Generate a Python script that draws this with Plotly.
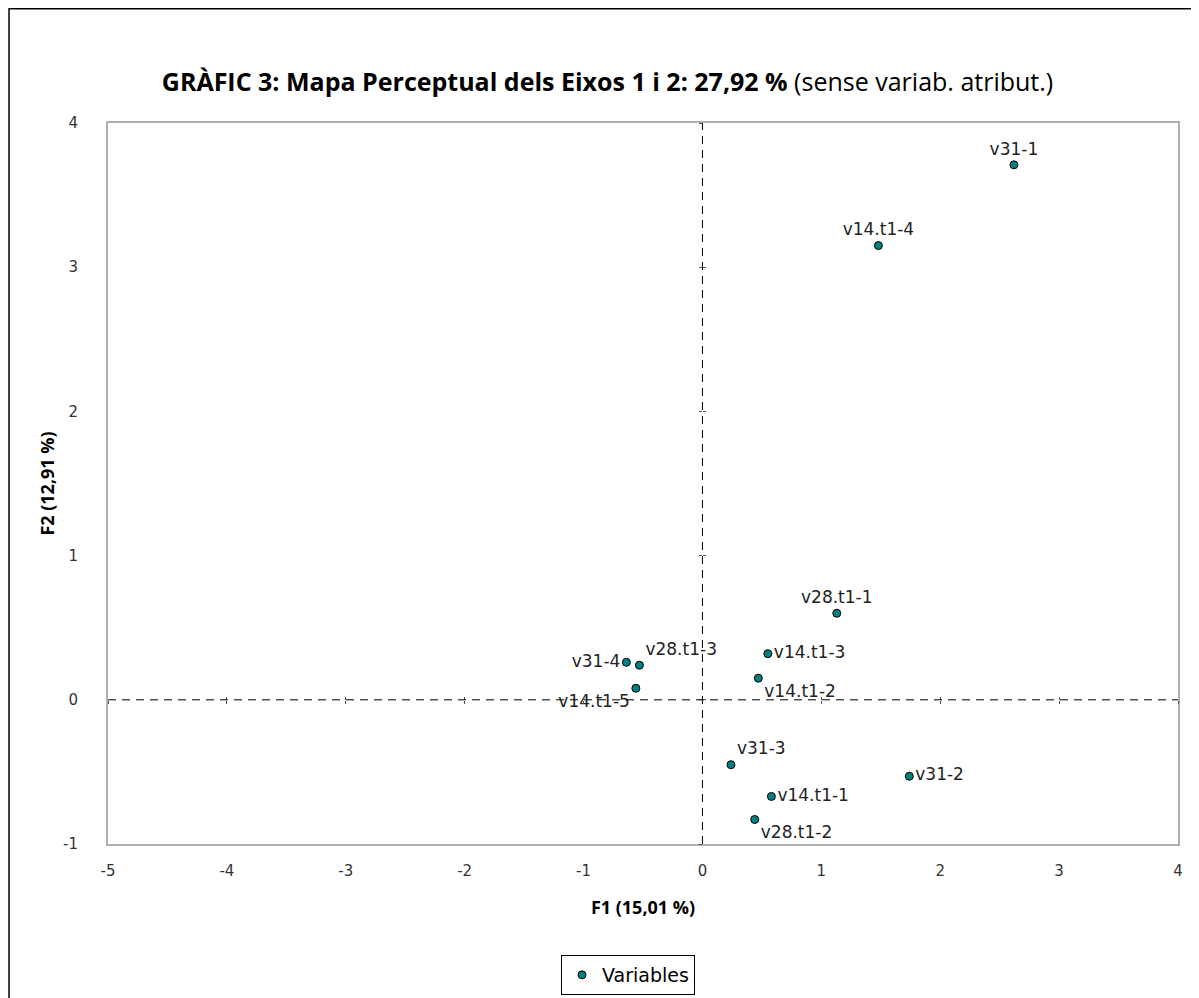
import plotly.graph_objects as go

labels = ["v31-1", "v14.t1-4", "v28.t1-1", "v14.t1-3", "v14.t1-2", "v31-4",
          "v28.t1-3", "v14.t1-5", "v31-3", "v31-2", "v14.t1-1", "v28.t1-2"]
f1 = [2.62, 1.48, 1.13, 0.55, 0.47, -0.64, -0.53, -0.56, 0.24, 1.74, 0.58, 0.44]
f2 = [3.71, 3.15, 0.60, 0.32, 0.15, 0.26, 0.24, 0.08, -0.45, -0.53, -0.67, -0.83]
positions = ["top center", "top center", "top center", "middle right", "bottom right",
             "middle left", "top right", "bottom left", "top right", "middle right",
             "middle right", "bottom right"]

x_ticks = [-5, -4, -3, -2, -1, 0, 1, 2, 3, 4]
y_ticks = [-1, 0, 1, 2, 3, 4]
x_ticktext = ["-5", "-4", "-3", "-2", "-1", "0", "1", "2", "3", "4"]
y_ticktext = ["-1", "0", "1", "2", "3", "4"]
x_range = [-5, 4]
y_range = [-1, 4]

LFONT = "DejaVu Sans"
TFONT = "Open Sans"

fig = go.Figure()
fig.add_trace(go.Scatter(
    x=f1, y=f2, mode="markers+text", text=labels, textposition=positions,
    name="Variables",
    marker=dict(color="#008080", size=8, line=dict(color="black", width=1)),
    textfont=dict(family=LFONT, size=17, color="#222222"),
    cliponaxis=False,
))

# crossing axes (dashed) at zero
fig.add_shape(type="line", xref="x", yref="y", x0=0, x1=0, y0=y_range[0], y1=y_range[1],
              line=dict(color="black", width=1, dash="8px,6px"))
fig.add_shape(type="line", xref="x", yref="y", x0=x_range[0], x1=x_range[1], y0=0, y1=0,
              line=dict(color="black", width=1, dash="8px,6px"))
# outer frame (only top and left edges fall inside the picture)
fig.add_shape(type="rect", xref="paper", yref="paper", x0=-0.0925, x1=1.1, y0=-0.4, y1=1.1586,
              line=dict(color="black", width=1.5), layer="below")

ypos0 = (0 - y_range[0]) / (y_range[1] - y_range[0])
xpos0 = (0 - x_range[0]) / (x_range[1] - x_range[0])

fig.update_layout(
    width=1199, height=998,
    margin=dict(l=100, r=29, t=115, b=161),
    paper_bgcolor="white", plot_bgcolor="white",
    font=dict(family=LFONT, color="#333333"),
    title=dict(text="<b>GRÀFIC 3: Mapa Perceptual dels Eixos 1 i 2: 27,92 %</b> (sense variab. atribut.)",
               x=0.5, xref="container", xanchor="center", y=0.926, yref="container", yanchor="middle",
               font=dict(family=TFONT, size=25, color="black")),
    showlegend=True,
    legend=dict(x=0.486, y=-0.18, xanchor="center", yanchor="middle",
                bordercolor="black", borderwidth=1, bgcolor="white",
                font=dict(family=LFONT, size=19, color="black"), itemwidth=30),
    xaxis=dict(range=x_range, tickvals=x_ticks, ticktext=x_ticktext, showgrid=False, zeroline=False,
               showline=True, linecolor="#b0b0b0", linewidth=2, mirror=True,
               ticks="", tickfont=dict(family=LFONT, size=15, color="#333333"), ticklabelstandoff=12,
               title=dict(text="<b>F1 (15,01 %)</b>", font=dict(family=TFONT, size=18, color="black"), standoff=22)),
    yaxis=dict(range=y_range, tickvals=y_ticks, ticktext=y_ticktext, showgrid=False, zeroline=False,
               showline=True, linecolor="#b0b0b0", linewidth=2, mirror=True,
               ticks="", tickfont=dict(family=LFONT, size=15, color="#333333"), ticklabelstandoff=25,
               title=dict(text="<b>F2 (12,91 %)</b>", font=dict(family=TFONT, size=18, color="black"), standoff=4)),
    xaxis2=dict(overlaying="x", anchor="free", position=ypos0, range=x_range, tickvals=x_ticks,
                showticklabels=False, showgrid=False, zeroline=False, showline=False,
                ticks="outside", ticklen=3, tickcolor="#555555", side="bottom"),
    xaxis3=dict(overlaying="x", anchor="free", position=ypos0, range=x_range, tickvals=x_ticks,
                showticklabels=False, showgrid=False, zeroline=False, showline=False,
                ticks="inside", ticklen=3, tickcolor="#555555", side="bottom"),
    yaxis2=dict(overlaying="y", anchor="free", position=xpos0, range=y_range, tickvals=y_ticks,
                showticklabels=False, showgrid=False, zeroline=False, showline=False,
                ticks="outside", ticklen=3, tickcolor="#555555", side="left"),
    yaxis3=dict(overlaying="y", anchor="free", position=xpos0, range=y_range, tickvals=y_ticks,
                showticklabels=False, showgrid=False, zeroline=False, showline=False,
                ticks="inside", ticklen=3, tickcolor="#555555", side="left"),
)
# invisible traces to activate the crossing axes
for xa, ya in [("x2", "y2"), ("x3", "y3")]:
    fig.add_trace(go.Scatter(x=[x_range[0]], y=[y_range[0]], xaxis=xa, yaxis=ya, mode="markers",
                             marker=dict(opacity=0), showlegend=False, hoverinfo="skip"))

fig.write_html("out.html")
